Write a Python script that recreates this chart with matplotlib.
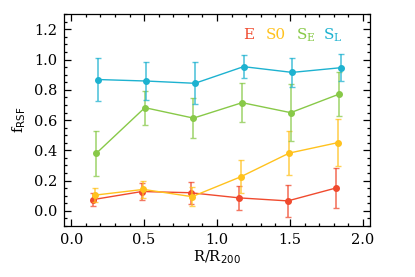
import numpy as np
import matplotlib
matplotlib.use("Agg")
import matplotlib.pyplot as plt
from matplotlib.ticker import MultipleLocator

plt.rcParams['font.family'] = ['DejaVu Serif']
plt.rcParams['mathtext.fontset'] = 'dejavuserif'

# bin centres in R/R200, each type shifted a little
bins = np.array([1/6, 0.5, 5/6, 7/6, 1.5, 11/6])
shift = {"E": -0.015, "S0": -0.005, "SE": 0.005, "SL": 0.015}

f_E = [0.075, 0.128, 0.12, 0.086, 0.066, 0.152]
err_E = [0.04, 0.057, 0.072, 0.077, 0.108, 0.13]
f_S0 = [0.104, 0.142, 0.094, 0.225, 0.382, 0.451]
err_S0 = [0.045, 0.058, 0.064, 0.11, 0.148, 0.153]
f_SE = [0.38, 0.682, 0.613, 0.715, 0.649, 0.772]
err_SE = [0.147, 0.112, 0.133, 0.127, 0.19, 0.145]
f_SL = [0.868, 0.858, 0.843, 0.953, 0.915, 0.946]
err_SL = [0.145, 0.126, 0.138, 0.077, 0.097, 0.088]

c_E = '#f04a2e'
c_S0 = '#ffc21e'
c_SE = '#88c948'
c_SL = '#1db2d0'

fig = plt.figure(figsize=(4.15, 2.77), dpi=100)
ax = fig.add_axes([0.154, 0.184, 0.738, 0.765])

series = [("E", f_E, err_E, c_E), ("S0", f_S0, err_S0, c_S0),
          ("SE", f_SE, err_SE, c_SE), ("SL", f_SL, err_SL, c_SL)]
for name, y, e, c in series:
    x = bins + shift[name]
    ax.errorbar(x, y, yerr=e, fmt='none', ecolor=c, alpha=0.75,
                elinewidth=1.2, capsize=2, capthick=1.0)
    ax.plot(x, y, '-o', color=c, lw=1.0, ms=4)

ax.set_xlim(-0.05, 2.05)
ax.set_ylim(-0.1, 1.3)
ax.xaxis.set_major_locator(MultipleLocator(0.5))
ax.xaxis.set_minor_locator(MultipleLocator(0.1))
ax.yaxis.set_major_locator(MultipleLocator(0.2))
ax.yaxis.set_minor_locator(MultipleLocator(0.05))
ax.tick_params(which='both', direction='in', top=True, right=True,
               labelsize=10.5, width=0.9)
ax.tick_params(which='major', length=5, pad=5)
ax.tick_params(which='minor', length=2.5)
ax.set_xticklabels([f"{v:.1f}" for v in ax.get_xticks()])
ax.set_yticklabels([f"{v:.1f}" for v in ax.get_yticks()])
for s in ax.spines.values():
    s.set_linewidth(0.9)

ax.set_xlabel(r'R/R$_{\mathsf{200}}$', fontsize=10.5, labelpad=1)
ax.set_ylabel(r'f$_{\mathsf{RSF}}$', fontsize=10.5, labelpad=4)

ty = 1.163
ax.text(1.22, ty, 'E', color=c_E, fontsize=11, ha='center', va='center')
ax.text(1.40, ty, 'S0', color=c_S0, fontsize=11, ha='center', va='center')
ax.text(1.61, ty, r'S$_{\mathrm{E}}$', color=c_SE, fontsize=11, ha='center', va='center')
ax.text(1.79, ty, r'S$_{\mathrm{L}}$', color=c_SL, fontsize=11, ha='center', va='center')

fig.savefig('out.png', dpi=100)
